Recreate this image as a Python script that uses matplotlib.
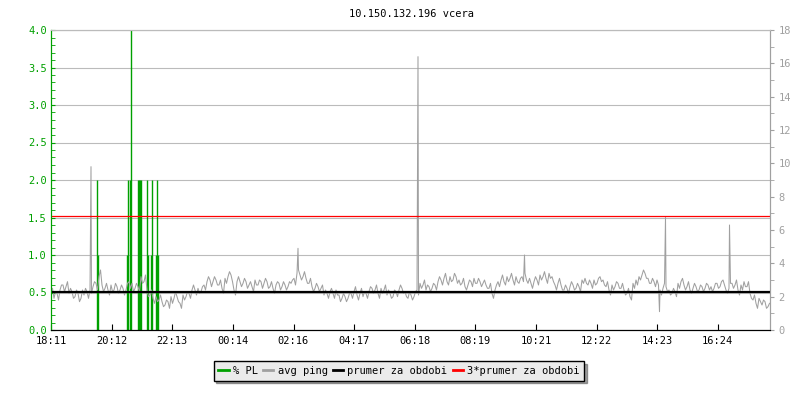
import numpy as np
import matplotlib
matplotlib.use('Agg')
import matplotlib.pyplot as plt
from matplotlib.lines import Line2D

plt.rcParams['font.family'] = ['DejaVu Sans Mono']
plt.rcParams['font.size'] = 7.5

# time axis: minutes since 18:11, 24 h window
x_ticks = [0, 121, 242, 363, 485, 606, 727, 848, 970, 1091, 1212, 1333]
x_labels = ["18:11", "20:12", "22:13", "00:14", "02:16", "04:17",
            "06:18", "08:19", "10:21", "12:22", "14:23", "16:24"]

# avg ping [ms], one value every 6 min
ping_base = [
    2.1, 1.9, 2.2, 2.4, 2.7, 2.6, 2.2, 2.3, 2.0, 2.2, 1.9, 2.1, 2.3, 2.4, 2.6, 2.8, 3.2, 2.7, 2.5, 2.4,
    2.7, 2.4, 2.6, 2.4, 2.5, 2.4, 2.9, 2.8, 2.5, 2.6, 3.2, 2.9, 2.4, 2.1, 1.9, 2.0, 1.8, 1.7, 1.5, 1.7,
    2.0, 1.9, 2.0, 1.6, 2.1, 2.0, 2.2, 2.4, 2.4, 2.5, 2.3, 2.7, 2.9, 3.0, 2.9, 3.0, 2.7, 2.5, 3.1, 3.2,
    3.3, 2.4, 2.9, 2.9, 2.8, 2.9, 2.7, 2.6, 3.0, 2.7, 2.9, 2.8, 2.9, 2.6, 2.5, 2.7, 2.8, 2.6, 2.7, 2.6,
    2.8, 3.1, 3.4, 3.3, 3.2, 3.1, 2.8, 2.6, 2.5, 2.6, 2.5, 2.1, 2.2, 2.3, 2.2, 2.4, 2.1, 1.9, 2.0, 1.9,
    2.2, 2.3, 2.1, 2.2, 2.0, 2.2, 2.3, 2.5, 2.4, 2.2, 2.5, 2.4, 2.1, 2.2, 2.0, 2.3, 2.4, 2.5, 2.3, 1.9,
    2.1, 2.0, 2.4, 2.8, 2.7, 2.4, 2.6, 2.5, 2.7, 2.9, 3.0, 3.1, 2.9, 3.2, 3.0, 3.2, 3.0, 2.8, 2.6, 2.7,
    2.9, 3.1, 2.8, 2.9, 2.8, 2.7, 2.5, 2.2, 2.4, 2.9, 3.0, 2.9, 3.2, 3.1, 3.0, 3.2, 2.8, 3.2, 3.4, 2.8,
    2.8, 2.9, 3.0, 3.3, 3.2, 3.1, 3.4, 3.2, 2.7, 2.8, 2.7, 2.4, 2.5, 2.6, 2.7, 2.5, 2.6, 3.0, 3.1, 2.7,
    2.8, 3.0, 2.8, 3.2, 3.0, 2.6, 2.4, 2.7, 2.6, 2.8, 2.5, 2.4, 2.2, 2.0, 2.8, 3.0, 3.2, 3.3, 3.4, 3.1,
    2.8, 2.9, 3.0, 2.4, 2.5, 2.6, 2.4, 2.2, 2.3, 2.8, 2.9, 2.7, 2.6, 2.4, 2.5, 2.6, 2.4, 2.6, 2.5, 2.7,
    2.6, 2.5, 2.8, 2.6, 3.0, 2.4, 2.5, 2.8, 2.7, 2.4, 2.7, 2.9, 2.6, 2.2, 1.8, 1.6, 1.9, 1.5, 1.7, 1.4,
]
# samples in between (3 min later), the jitter of the band
ping_mid = [
    2.5, 2.3, 1.8, 2.7, 2.3, 2.9, 2.5, 1.9, 2.4, 1.7, 2.4, 2.5, 1.9, 2.2, 2.9, 2.4, 3.6, 2.3, 2.8, 2.1,
    2.3, 2.8, 2.2, 2.7, 2.1, 2.8, 2.5, 2.3, 2.8, 2.3, 2.8, 3.3, 2.0, 2.4, 1.6, 1.7, 2.1, 1.4, 1.8, 1.3,
    1.6, 2.3, 1.7, 1.3, 1.8, 2.3, 1.9, 2.7, 2.1, 2.2, 2.6, 2.4, 3.2, 2.6, 3.2, 2.7, 3.0, 2.2, 2.8, 3.5,
    2.9, 2.1, 3.2, 2.6, 3.1, 2.5, 2.9, 2.3, 2.7, 3.0, 2.5, 3.1, 2.5, 2.9, 2.2, 2.9, 2.4, 2.9, 2.4, 2.9,
    3.0, 2.7, 3.6, 3.0, 3.5, 2.8, 3.1, 2.3, 2.8, 2.3, 2.7, 2.4, 1.9, 2.5, 1.9, 2.1, 1.7, 2.2, 1.7, 2.2,
    1.9, 2.6, 1.8, 2.5, 2.3, 1.9, 2.6, 2.2, 2.7, 1.9, 2.2, 2.7, 2.4, 1.9, 2.4, 2.0, 2.7, 2.2, 2.0, 2.3,
    1.8, 2.3, 2.1, 2.5, 3.0, 2.7, 2.3, 2.8, 2.4, 3.2, 2.7, 3.4, 2.7, 2.9, 3.4, 2.8, 2.7, 3.1, 2.4, 3.0,
    2.6, 2.8, 3.1, 2.6, 3.0, 2.5, 2.8, 1.9, 2.7, 2.6, 3.3, 2.7, 2.9, 3.4, 2.7, 2.9, 3.1, 2.9, 3.0, 3.1,
    2.5, 3.2, 2.7, 3.0, 3.5, 2.8, 3.1, 2.9, 2.4, 3.1, 2.4, 2.7, 2.2, 2.9, 2.4, 2.8, 2.3, 2.8, 2.8, 3.0,
    2.5, 2.7, 3.1, 2.9, 2.7, 2.9, 2.1, 2.4, 2.9, 2.5, 2.8, 2.1, 2.5, 1.8, 2.5, 2.7, 3.0, 3.6, 3.1, 2.8,
    3.1, 2.6, 2.7, 2.1, 2.8, 2.3, 2.1, 2.5, 2.0, 2.5, 3.1, 2.4, 2.9, 2.2, 2.8, 2.3, 2.7, 2.3, 2.8, 2.4,
    2.3, 2.8, 2.5, 2.9, 2.7, 2.2, 2.8, 2.5, 3.0, 2.1, 2.4, 2.6, 2.9, 1.9, 2.1, 1.3, 1.7, 1.8, 1.3, 1.6,
]
ping_step = 6

# single samples that stick out (minute, ms)
spike_min = [79, 80, 494, 733, 734, 947, 1217, 1229, 1357]
spike_ms = [6.0, 9.8, 4.9, 9.6, 16.4, 4.5, 1.1, 6.75, 6.3]

# packet loss [%]
pl_min = [92, 94, 152, 154, 158, 160, 174, 176, 178, 180, 192, 194, 200, 202, 210, 212, 214]
pl_val = [2, 1, 1, 2, 2, 4, 2, 2, 2, 2, 2, 1, 1, 2, 1, 2, 1]

prumer = 2.29

GREEN = '#00a000'
GREY = '#a0a0a0'

t_base = np.arange(len(ping_base)) * ping_step
t = np.concatenate([t_base, t_base + ping_step // 2, spike_min])
v = np.concatenate([ping_base, ping_mid, spike_ms])
order = np.argsort(t)
t, v = t[order], v[order]

fig = plt.figure(figsize=(8, 4), dpi=100)
ax = fig.add_axes([51 / 800, 70 / 400, 719 / 800, 300 / 400])
ax2 = ax.twinx()

ax.vlines(pl_min, 0, pl_val, color=GREEN, lw=1.0)
ax2.plot(t, v, color=GREY, lw=0.75)
ax2.axhline(prumer, color='black', lw=1.6)
ax2.axhline(3 * prumer, color='#ff0000', lw=0.9)

ax.set_xlim(0, 1438)
ax.set_ylim(0, 4)
ax2.set_ylim(0, 18)

ax.set_yticks(np.arange(0, 4.01, 0.5))
ax.set_yticks(np.arange(0, 4.01, 0.1), minor=True)
ax.set_yticklabels([f"{y:.1f}" for y in np.arange(0, 4.01, 0.5)])
ax.yaxis.grid(True, color='#bbbbbb', lw=0.8)
ax.set_axisbelow(True)
ax.tick_params(axis='y', which='both', direction='in', length=3, color=GREEN, labelcolor=GREEN, pad=3)

ax.set_xticks(x_ticks)
ax.set_xticklabels(x_labels)
ax.tick_params(axis='x', direction='in', length=4, color='black', pad=4)

ax2.set_yticks(np.arange(0, 19, 2))
ax2.set_yticks(np.arange(0, 19, 1), minor=True)
ax2.tick_params(axis='y', which='both', direction='out', length=3, color=GREY, labelcolor=GREY, pad=3)

for a in (ax, ax2):
    a.spines['left'].set_color(GREEN)
    a.spines['right'].set_color(GREY)
    a.spines['top'].set_color('#bbbbbb')
    a.spines['bottom'].set_color('black')

fig.text(411 / 800, 1 - 14 / 400, "10.150.132.196 vcera", ha='center', va='center')

handles = [Line2D([], [], color=GREEN, lw=2),
           Line2D([], [], color=GREY, lw=2),
           Line2D([], [], color='black', lw=2),
           Line2D([], [], color='#ff0000', lw=2)]
labels = ["% PL", "avg ping", "prumer za obdobi", "3*prumer za obdobi"]
leg = fig.legend(handles, labels, loc='center', bbox_to_anchor=(399 / 800, 1 - 371 / 400),
                 ncol=4, frameon=True, fancybox=False, shadow=True,
                 handlelength=1.0, handletextpad=0.4, columnspacing=0.5, borderpad=0.45)
leg.get_frame().set_edgecolor('black')
leg.get_frame().set_facecolor('#ebebeb')
leg.get_frame().set_linewidth(1.0)

fig.savefig("out.png", dpi=100)
